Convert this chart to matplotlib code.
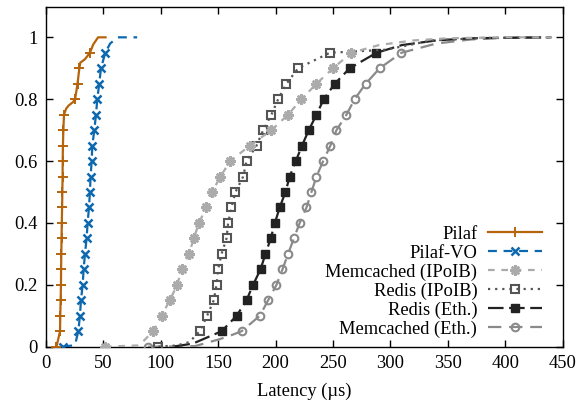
import matplotlib
matplotlib.use("Agg")
import matplotlib.pyplot as plt
import numpy as np

plt.rcParams['font.family'] = ['Liberation Serif', 'DejaVu Serif']
plt.rcParams['mathtext.fontset'] = 'stix'

# ---- data (latency in microseconds, cumulative fraction) ----
pilaf_x = [9.3, 12.4, 12.6, 12.9, 13.2, 13.3, 13.5, 13.7, 13.9, 14.2, 14.4, 14.6, 14.7, 14.9, 15.3, 15.8,
           17.8, 20.0, 23.5, 25.5, 27.6, 29.2, 30.0, 34.0, 38.4, 41.3, 45.5, 52.0]
pilaf_y = [0.0, 0.05, 0.10, 0.15, 0.20, 0.25, 0.30, 0.35, 0.40, 0.45, 0.50, 0.55, 0.60, 0.65, 0.70, 0.75,
           0.77, 0.78, 0.79, 0.80, 0.85, 0.90, 0.918, 0.929, 0.95, 0.977, 1.0, 1.0]

pilafvo_x = [15.2, 25.4, 28.3, 29.7, 30.6, 32.1, 32.9, 34.1, 35.5, 36.4, 37.6, 38.4, 39.0, 39.9, 40.5, 42.2,
             43.7, 44.8, 46.5, 48.0, 51.8, 56.0, 62.7, 79.5]
pilafvo_y = [0.0, 0.005, 0.05, 0.10, 0.15, 0.20, 0.25, 0.30, 0.35, 0.40, 0.45, 0.50, 0.55, 0.60, 0.65, 0.70,
             0.75, 0.80, 0.85, 0.90, 0.95, 0.98, 1.0, 1.0]

memib_x = [51.5, 80.0, 83.6, 93.5, 100.8, 107.9, 114.4, 118.2, 124.5, 128.9, 133.2, 139.8, 144.8, 152.0,
           160.5, 177.6, 196.4, 210.9, 222.5, 235.6, 250.0, 266.0, 290.0, 320.0, 350.0, 400.0, 440.0]
memib_y = [0.0, 0.004, 0.013, 0.05, 0.10, 0.15, 0.20, 0.25, 0.30, 0.35, 0.40, 0.45, 0.50, 0.55,
           0.60, 0.65, 0.70, 0.75, 0.80, 0.85, 0.90, 0.95, 0.975, 0.99, 0.997, 1.0, 1.0]

redisib_x = [98.0, 105.0, 114.0, 125.0, 134.0, 140.4, 146.2, 148.6, 150.0, 153.0, 157.3, 158.7, 161.6, 165.1,
             171.8, 174.7, 183.4, 189.2, 196.4, 202.2, 209.5, 219.6, 247.2, 296.0, 336.0, 380.0, 440.0]
redisib_y = [0.0, 0.002, 0.004, 0.015, 0.05, 0.10, 0.15, 0.20, 0.25, 0.30, 0.35, 0.40, 0.45, 0.50,
             0.55, 0.60, 0.65, 0.70, 0.75, 0.80, 0.85, 0.90, 0.95, 0.96, 0.99, 0.998, 1.0]

redeth_x = [112.0, 128.0, 153.0, 166.1, 174.7, 180.4, 186.9, 191.2, 195.8, 199.4, 203.6, 208.6, 212.3, 217.6,
            223.0, 228.9, 235.6, 241.9, 251.5, 264.5, 287.8, 310.0, 340.0, 370.0, 440.0]
redeth_y = [0.001, 0.01, 0.05, 0.10, 0.15, 0.20, 0.25, 0.30, 0.35, 0.40, 0.45, 0.50, 0.55, 0.60,
            0.65, 0.70, 0.75, 0.80, 0.85, 0.90, 0.95, 0.975, 0.99, 0.997, 1.0]

memeth_x = [89.0, 130.0, 151.0, 160.0, 170.4, 186.3, 193.5, 200.8, 206.0, 210.9, 215.9, 221.0, 226.9, 231.2,
            235.6, 241.4, 247.7, 253.0, 261.7, 268.8, 278.4, 290.6, 309.5, 340.0, 370.0, 400.0, 440.0]
memeth_y = [0.0, 0.002, 0.024, 0.035, 0.05, 0.10, 0.15, 0.20, 0.25, 0.30, 0.35, 0.40, 0.45, 0.50,
            0.55, 0.60, 0.65, 0.70, 0.75, 0.80, 0.85, 0.90, 0.95, 0.98, 0.993, 0.999, 1.0]

labels = ["Pilaf", "Pilaf-VO", "Memcached (IPoIB)", "Redis (IPoIB)", "Redis (Eth.)", "Memcached (Eth.)"]
xs = [pilaf_x, pilafvo_x, memib_x, redisib_x, redeth_x, memeth_x]
ys = [pilaf_y, pilafvo_y, memib_y, redisib_y, redeth_y, memeth_y]

colors = ['#b5640b', '#0d68ae', '#ababab', '#555555', '#222222', '#8a8a8a']
dashes = [(None, None), (4, 3), (3, 3), (1, 2.2), (7, 2.5), (6, 3.5)]
markers = ['+', 'x', (8, 2, 0), 's', 's', 'o']
facecols = ['none', 'none', 'none', 'none', '#222222', 'none']
msizes = [7, 6, 7.5, 5.5, 5.5, 5.5]
mews = [1.4, 1.8, 1.8, 1.5, 1.0, 1.5]

def mark_idx(yv):
    idx = []
    for i, v in enumerate(yv):
        k = v * 20
        if abs(k - round(k)) < 1e-6 and v < 0.999:
            idx.append(i)
    return idx

fig = plt.figure(figsize=(5.79, 4.04), dpi=100)
ax = fig.add_axes([45.8 / 579, 1 - 346.7 / 404, (562.8 - 45.8) / 579, (346.7 - 6.7) / 404])

handles = []
for i in range(6):
    ln, = ax.plot(xs[i], ys[i], color=colors[i], lw=1.6,
                  marker=markers[i], markersize=msizes[i], markeredgewidth=mews[i],
                  markerfacecolor=facecols[i], markeredgecolor=colors[i],
                  markevery=mark_idx(ys[i]), label=labels[i], zorder=3 + (5 - i) * 0.1)
    if dashes[i][0] is not None:
        ln.set_dashes(dashes[i])
    handles.append(ln)

ax.set_xlim(0, 450)
ax.set_ylim(0, 1.099)
ax.set_xticks(np.arange(0, 451, 50))
ax.set_yticks([0, 0.2, 0.4, 0.6, 0.8, 1.0])
ax.set_yticklabels(["0", "0.2", "0.4", "0.6", "0.8", "1"])
ax.tick_params(direction='in', top=True, right=True, length=5, width=1, labelsize=13.3, pad=6)
for s in ax.spines.values():
    s.set_linewidth(1.0)
ax.set_xlabel("Latency (\u00b5s)", fontsize=13.3, labelpad=8)

leg = ax.legend(handles=handles, loc='lower right', bbox_to_anchor=((542 - 45.8) / 517, 0.027),
                frameon=False, markerfirst=False, fontsize=13.3, numpoints=1,
                handlelength=2.9, handletextpad=0.6, labelspacing=0.09, borderpad=0, borderaxespad=0)
for t in leg.get_texts():
    t.set_ha('right')

fig.savefig("out.png", dpi=100)
